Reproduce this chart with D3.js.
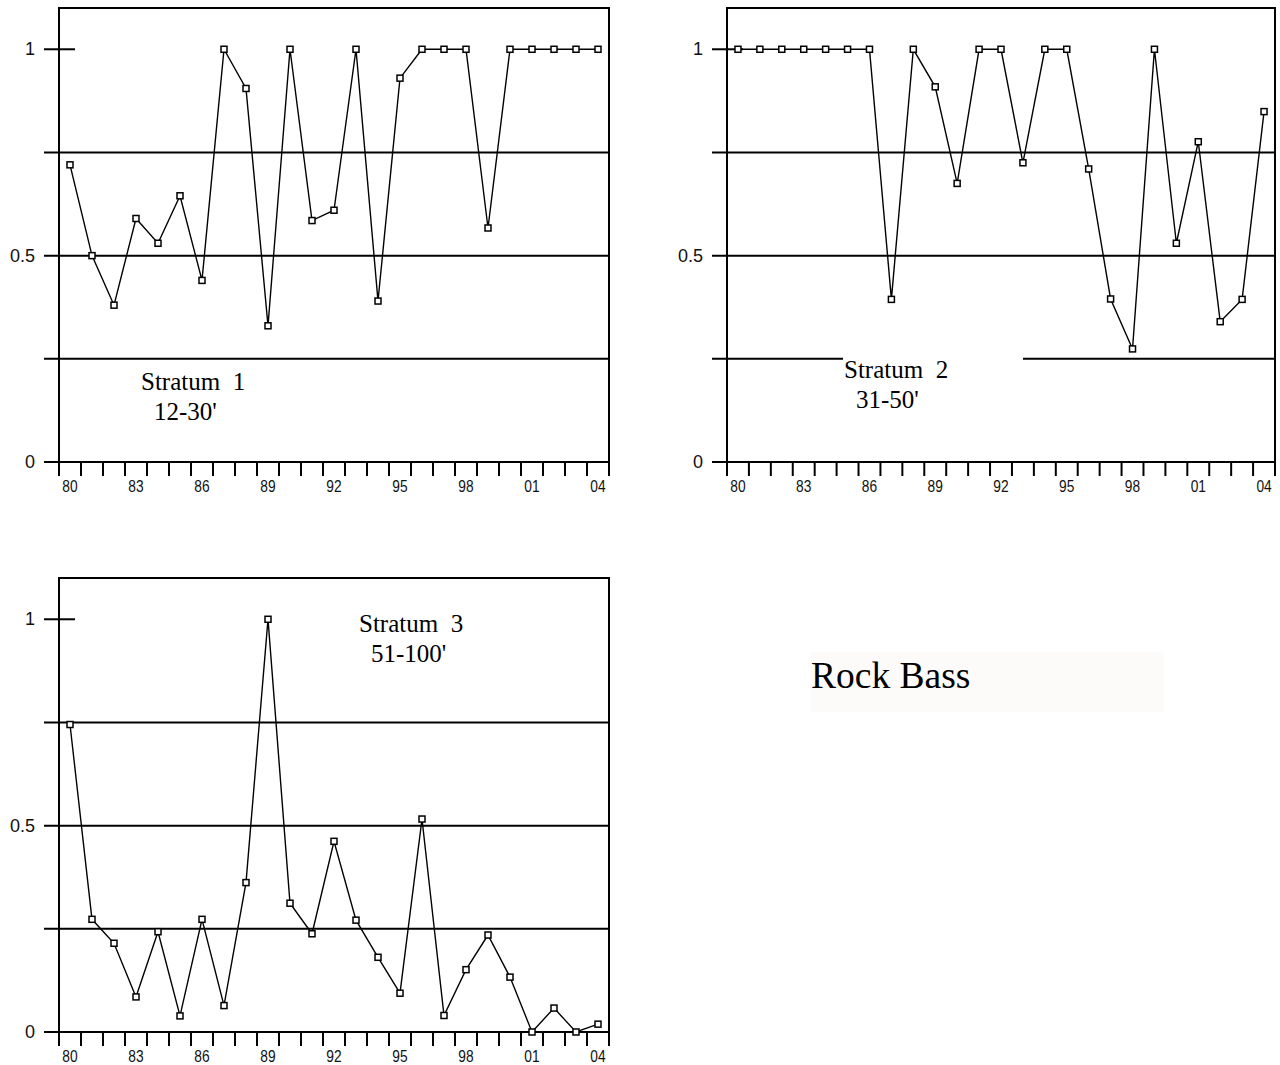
<!DOCTYPE html>
<html>
<head>
<meta charset="utf-8">
<script src="https://cdn.jsdelivr.net/npm/d3@7"></script>
<style>
  html, body { margin: 0; padding: 0; background: #fff; }
  svg { display: block; }
</style>
</head>
<body>
<script>
// Proportion of annual samples, Rock Bass, by depth stratum
const years = ["80","81","82","83","84","85","86","87","88","89","90","91","92",
               "93","94","95","96","97","98","99","00","01","02","03","04"];
const yearLabels = ["80","83","86","89","92","95","98","01","04"];
const yTickValues = [0, 0.5, 1];
const yTickLabels = ["0", "0.5", "1"];
const gridValues = [0.25, 0.5, 0.75];

const stratum1 = [0.72, 0.50, 0.38, 0.59, 0.53, 0.645, 0.44, 1, 0.905, 0.33, 1, 0.585, 0.61,
                  1, 0.39, 0.93, 1, 1, 1, 0.567, 1, 1, 1, 1, 1];
const stratum2 = [1, 1, 1, 1, 1, 1, 1, 0.394, 1, 0.909, 0.675, 1, 1,
                  0.725, 1, 1, 0.71, 0.395, 0.274, 1, 0.53, 0.776, 0.34, 0.394, 0.849];
const stratum3 = [0.745, 0.273, 0.215, 0.085, 0.243, 0.039, 0.273, 0.064, 0.362, 1, 0.312, 0.238, 0.462,
                  0.271, 0.181, 0.094, 0.516, 0.04, 0.151, 0.235, 0.133, 0, 0.058, 0, 0.019];

const W = 1280, H = 1065;
const svg = d3.select("body").append("svg").attr("width", W).attr("height", H);

const panels = [
  { values: stratum1, left: 59, right: 609, base: 462,
    title: ["Stratum  1", "12-30'"], tx: [141, 154], ty: [390, 420], box: null },
  { values: stratum2, left: 727, right: 1275, base: 462,
    title: ["Stratum  2", "31-50'"], tx: [844, 856], ty: [378, 408], box: [843, 352, 180, 66] },
  { values: stratum3, left: 59, right: 609, base: 1032,
    title: ["Stratum  3", "51-100'"], tx: [359, 371], ty: [632, 662], box: null }
];

const plotH = 454;

panels.forEach(p => {
  const g = svg.append("g");
  const x = d3.scaleBand().domain(years).range([p.left, p.right]).padding(0);
  const y = d3.scaleLinear().domain([0, 1.1]).range([p.base, p.base - plotH]);
  const cx = d => x(d) + x.bandwidth() / 2;
  const outL = p.left - 15;

  // horizontal reference lines at quarters, and the zero axis
  g.selectAll("line.grid").data(gridValues.concat([0])).join("line")
    .attr("class", "grid")
    .attr("x1", outL).attr("x2", p.right)
    .attr("y1", d => y(d)).attr("y2", d => y(d))
    .attr("stroke", "#000").attr("stroke-width", 2);

  // short tick at 1
  g.append("line")
    .attr("x1", outL).attr("x2", p.left + 16)
    .attr("y1", y(1)).attr("y2", y(1))
    .attr("stroke", "#000").attr("stroke-width", 2);

  // frame: top edge plus the two sides running down through the tick row
  g.append("path")
    .attr("d", `M${p.left},${p.base + 14}V${y(1.1)}H${p.right}V${p.base + 14}`)
    .attr("fill", "none").attr("stroke", "#000").attr("stroke-width", 2);

  // year ticks at band boundaries
  const bounds = years.map(d => x(d)).concat([p.right]);
  g.selectAll("line.xt").data(bounds).join("line")
    .attr("class", "xt")
    .attr("x1", d => d).attr("x2", d => d)
    .attr("y1", p.base).attr("y2", p.base + 14)
    .attr("stroke", "#000").attr("stroke-width", 2);

  // year labels
  g.selectAll("text.xl").data(yearLabels).join("text")
    .attr("class", "xl")
    .attr("transform", d => `translate(${cx(d)},${p.base + 24}) scale(0.86,1)`)
    .attr("text-anchor", "middle")
    .attr("dominant-baseline", "central")
    .attr("font-family", "'Liberation Sans', Arial, sans-serif")
    .attr("font-size", 16)
    .attr("fill", "#111")
    .text(d => d);

  // value labels
  g.selectAll("text.yl").data(yTickValues).join("text")
    .attr("class", "yl")
    .attr("x", p.left - 24)
    .attr("y", d => y(d))
    .attr("text-anchor", "end")
    .attr("dominant-baseline", "central")
    .attr("font-family", "'Liberation Sans', Arial, sans-serif")
    .attr("font-size", 18)
    .attr("fill", "#111")
    .text((d, i) => yTickLabels[i]);

  // label box (blanks the reference line behind the label)
  if (p.box) {
    g.append("rect")
      .attr("x", p.box[0]).attr("y", p.box[1])
      .attr("width", p.box[2]).attr("height", p.box[3])
      .attr("fill", "#fff");
  }

  g.selectAll("text.title").data(p.title).join("text")
    .attr("class", "title")
    .attr("x", (d, i) => p.tx[i])
    .attr("y", (d, i) => p.ty[i])
    .attr("font-family", "'Liberation Serif', 'Times New Roman', serif")
    .attr("font-size", 25)
    .attr("fill", "#000")
    .attr("xml:space", "preserve")
    .style("white-space", "pre")
    .text(d => d);

  // series line and square markers
  const pts = years.map((d, i) => [cx(d), y(p.values[i])]);
  g.append("path")
    .attr("d", d3.line()(pts))
    .attr("fill", "none").attr("stroke", "#000").attr("stroke-width", 1.4);

  g.selectAll("rect.mk").data(pts).join("rect")
    .attr("class", "mk")
    .attr("x", d => d[0] - 3).attr("y", d => d[1] - 3)
    .attr("width", 6).attr("height", 6)
    .attr("fill", "#fff").attr("stroke", "#000").attr("stroke-width", 1.5);
});

// species name
svg.append("rect")
  .attr("x", 811).attr("y", 652).attr("width", 353).attr("height", 60)
  .attr("fill", "#fcfbfa");
svg.append("text")
  .attr("x", 811).attr("y", 688)
  .attr("font-family", "'Liberation Serif', 'Times New Roman', serif")
  .attr("font-size", 37.5)
  .attr("fill", "#000")
  .text("Rock Bass");
</script>
</body>
</html>
